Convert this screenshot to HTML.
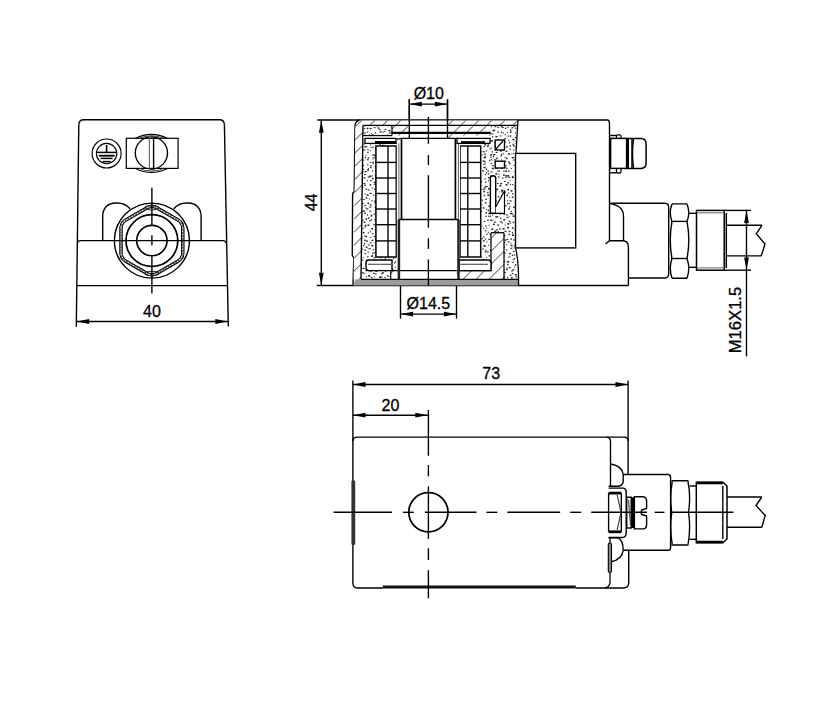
<!DOCTYPE html>
<html><head><meta charset="utf-8"><style>
html,body{margin:0;padding:0;background:#fff;}
svg{display:block;}
text{font-family:"Liberation Sans",sans-serif;fill:#000;stroke:#000;stroke-width:0.3px;}
</style></head><body>
<svg width="823" height="719" viewBox="0 0 823 719">
<rect width="823" height="719" fill="#fff"/>
<line x1="78.8" y1="124.5" x2="76.3" y2="326.7" stroke="#000" stroke-width="1.38" />
<path d="M78.8,124.5 Q79.3,119.7 83.8,119.7 L219.5,119.7 Q224,119.7 224.4,124.5" stroke="#000" stroke-width="1.38" fill="none" />
<line x1="224.4" y1="124.5" x2="228.3" y2="326.5" stroke="#000" stroke-width="1.38" />
<path d="M77.3,243 Q78,240.6 80.5,240.6 L223,240.6 Q225.5,240.6 226.4,243" stroke="#000" stroke-width="1.38" fill="none" />
<line x1="76.5" y1="285.6" x2="227.6" y2="285.6" stroke="#000" stroke-width="1.38" />
<line x1="76.5" y1="321.5" x2="227.8" y2="321.5" stroke="#000" stroke-width="1.38" />
<path d="M76.6,321.5 L89.1,319.1 L89.1,323.9 Z" fill="#000" stroke="none"/>
<path d="M227.8,321.5 L215.3,323.9 L215.3,319.1 Z" fill="#000" stroke="none"/>
<text x="152" y="311" font-size="16" text-anchor="middle" dominant-baseline="central">40</text>
<path d="M102.7,240.6 L102.7,216.5 C102.7,208 108,203 115.5,203 L117.5,203 C123,203 126.8,205 130,208.8" stroke="#000" stroke-width="1.38" fill="none" />
<path d="M201.1,240.6 L201.1,216.5 C201.1,208 195.8,203 188.3,203 L186.3,203 C180.8,203 177,205 173.8,208.8" stroke="#000" stroke-width="1.38" fill="none" />
<circle cx="151.9" cy="240.6" r="37.5" stroke="#000" stroke-width="1.38" fill="none" />
<defs><clipPath id="cca"><circle cx="151.9" cy="240.6" r="35.4"/></clipPath><clipPath id="hca"><polygon points="151.9,203.59 183.95,222.09 183.95,259.11 151.9,277.61 119.85,259.11 119.85,222.09"/></clipPath></defs>
<polygon points="151.9,203.6 183.94,222.1 183.94,259.1 151.9,277.6 119.86,259.1 119.86,222.1" stroke="#000" stroke-width="1.2" fill="none" clip-path="url(#cca)" />
<circle cx="151.9" cy="240.6" r="35.4" stroke="#000" stroke-width="1.2" fill="none" clip-path="url(#hca)" />
<defs><clipPath id="ccb"><circle cx="151.9" cy="240.6" r="34.2"/></clipPath><clipPath id="hcb"><polygon points="151.9,204.89 182.83,222.75 182.83,258.45 151.9,276.31 120.97,258.45 120.97,222.75"/></clipPath></defs>
<polygon points="151.9,204.9 182.82,222.75 182.82,258.45 151.9,276.3 120.98,258.45 120.98,222.75" stroke="#555" stroke-width="1.5" fill="none" clip-path="url(#ccb)" stroke-dasharray="1.8 1.2"/>
<circle cx="151.9" cy="240.6" r="34.2" stroke="#555" stroke-width="1.5" fill="none" clip-path="url(#hcb)" stroke-dasharray="1.8 1.2"/>
<defs><clipPath id="ccc"><circle cx="151.9" cy="240.6" r="33.0"/></clipPath><clipPath id="hcc"><polygon points="151.9,206.29 181.61,223.44 181.61,257.75 151.9,274.91 122.19,257.75 122.19,223.44"/></clipPath></defs>
<polygon points="151.9,206.3 181.6,223.45 181.6,257.75 151.9,274.9 122.2,257.75 122.2,223.45" stroke="#000" stroke-width="1.1" fill="none" clip-path="url(#ccc)" />
<circle cx="151.9" cy="240.6" r="33.0" stroke="#000" stroke-width="1.1" fill="none" clip-path="url(#hcc)" />
<ellipse cx="151.9" cy="207.8" rx="7" ry="2.2" stroke="#333" stroke-width="1.1" fill="none"/>
<ellipse cx="151.9" cy="273.4" rx="7" ry="2.2" stroke="#333" stroke-width="1.1" fill="none"/>
<circle cx="151.9" cy="240.6" r="25.9" stroke="#000" stroke-width="1.72" fill="none" />
<circle cx="151.9" cy="240.6" r="15.2" stroke="#000" stroke-width="1.61" fill="none" />
<line x1="151.9" y1="187.8" x2="151.9" y2="225.3" stroke="#000" stroke-width="1.38" />
<line x1="151.9" y1="235.3" x2="151.9" y2="245.2" stroke="#000" stroke-width="1.38" />
<line x1="151.9" y1="256.2" x2="151.9" y2="293.5" stroke="#000" stroke-width="1.38" />
<circle cx="106.6" cy="153.5" r="14.5" stroke="#000" stroke-width="1.15" fill="none" />
<circle cx="106.6" cy="153.5" r="10.2" stroke="#000" stroke-width="1.15" fill="none" />
<line x1="106.6" y1="145" x2="106.6" y2="152.4" stroke="#000" stroke-width="1.61" />
<line x1="96.6" y1="152.4" x2="116.6" y2="152.4" stroke="#000" stroke-width="1.49" />
<line x1="98.8" y1="155.7" x2="114.6" y2="155.7" stroke="#000" stroke-width="1.84" />
<line x1="100.6" y1="158.4" x2="112.6" y2="158.4" stroke="#000" stroke-width="1.49" />
<line x1="102.6" y1="161.6" x2="110.6" y2="161.6" stroke="#000" stroke-width="1.49" />
<rect x="126.3" y="138.3" width="51.8" height="30.1" stroke="#000" stroke-width="1.21" fill="none" />
<circle cx="151.4" cy="153" r="16.1" stroke="#000" stroke-width="1.38" fill="none" />
<path d="M135.4,138.3 Q151.5,130.4 167.4,138.3" stroke="#000" stroke-width="1.15" fill="none" />
<path d="M135.4,168.4 Q151.5,176.3 167.4,168.4" stroke="#000" stroke-width="1.15" fill="none" />
<path d="M139,138.3 Q151.5,133 164,138.3" stroke="#444" stroke-width="1.03" fill="none" />
<path d="M139,168.4 Q151.5,173.7 164,168.4" stroke="#444" stroke-width="1.03" fill="none" />
<line x1="149.4" y1="136.8" x2="149.4" y2="169.8" stroke="#666" stroke-width="1.15" />
<line x1="153.6" y1="136.8" x2="153.6" y2="169.8" stroke="#000" stroke-width="1.38" />
<line x1="317.3" y1="120" x2="360" y2="120" stroke="#000" stroke-width="1.38" />
<line x1="316.8" y1="285.5" x2="353" y2="285.5" stroke="#000" stroke-width="1.38" />
<line x1="321.3" y1="120" x2="321.3" y2="285.5" stroke="#000" stroke-width="1.38" />
<path d="M321.3,120.2 L323.7,132.7 L318.9,132.7 Z" fill="#000" stroke="none"/>
<path d="M321.3,285.3 L318.9,272.8 L323.7,272.8 Z" fill="#000" stroke="none"/>
<text x="311.7" y="202.4" font-size="16" text-anchor="middle" dominant-baseline="central" transform="rotate(-90 311.7 202.4)">44</text>
<line x1="409.3" y1="99.3" x2="409.3" y2="138.5" stroke="#000" stroke-width="1.38" />
<line x1="447.5" y1="99.3" x2="447.5" y2="138.5" stroke="#000" stroke-width="1.38" />
<line x1="409.3" y1="104.1" x2="447.5" y2="104.1" stroke="#000" stroke-width="1.38" />
<path d="M409.4,104.1 L421.9,101.7 L421.9,106.5 Z" fill="#000" stroke="none"/>
<path d="M447.4,104.1 L434.9,106.5 L434.9,101.7 Z" fill="#000" stroke="none"/>
<text x="428.8" y="93.3" font-size="16" text-anchor="middle" dominant-baseline="central">Ø10</text>
<line x1="400.5" y1="279" x2="400.5" y2="318.6" stroke="#000" stroke-width="1.38" />
<line x1="456.5" y1="279" x2="456.5" y2="318.6" stroke="#000" stroke-width="1.38" />
<line x1="400.5" y1="314.1" x2="456.5" y2="314.1" stroke="#000" stroke-width="1.38" />
<path d="M400.6,314.1 L413.1,311.7 L413.1,316.5 Z" fill="#000" stroke="none"/>
<path d="M456.4,314.1 L443.9,316.5 L443.9,311.7 Z" fill="#000" stroke="none"/>
<text x="428.4" y="303.6" font-size="16" text-anchor="middle" dominant-baseline="central">Ø14.5</text>
<path d="M360,120 L607.7,120 Q609.5,120.5 609.5,124 L609.5,240.8" stroke="#000" stroke-width="1.38" fill="none" />
<path d="M360,120 Q355.2,121 355,126 L354.2,191.5 L352.6,193.5 L352.3,255.5 L353.8,257.5 L353,285.5" stroke="#000" stroke-width="1.38" fill="none" />
<line x1="353" y1="285.5" x2="628.4" y2="285.5" stroke="#000" stroke-width="1.38" />
<path d="M609.5,203.2 L665,203.2" stroke="#000" stroke-width="1.38" fill="none" />
<path d="M609.5,203.6 Q623.5,205.5 623.5,216 L623.5,240.8 L609.5,240.8 L605.5,244" stroke="#000" stroke-width="1.38" fill="none" />
<path d="M623.5,240.8 Q628.4,241.5 628.4,247 L628.4,285.5" stroke="#000" stroke-width="1.38" fill="none" />
<line x1="628.4" y1="278" x2="665" y2="278" stroke="#000" stroke-width="1.38" />
<path d="M665,203.2 Q668.7,203.4 668.7,207.5 L668.7,273.7 Q668.7,277.8 665,278" stroke="#000" stroke-width="1.38" fill="none" />
<path d="M672,203.9 L687,203.9 M672,278.2 L687,278.2" stroke="#000" stroke-width="1.38" fill="none" />
<path d="M672,203.9 Q668.6,212.65 672,221.4" stroke="#000" stroke-width="1.38" fill="none" />
<path d="M687,203.9 Q690.6,212.65 687,221.4" stroke="#000" stroke-width="1.38" fill="none" />
<path d="M672,221.4 Q668.6,239.95 672,258.5" stroke="#000" stroke-width="1.38" fill="none" />
<path d="M687,221.4 Q690.6,239.95 687,258.5" stroke="#000" stroke-width="1.38" fill="none" />
<path d="M672,258.5 Q668.6,268.35 672,278.2" stroke="#000" stroke-width="1.38" fill="none" />
<path d="M687,258.5 Q690.6,268.35 687,278.2" stroke="#000" stroke-width="1.38" fill="none" />
<line x1="671" y1="221.4" x2="688" y2="221.4" stroke="#000" stroke-width="1.38" />
<line x1="671" y1="258.5" x2="688" y2="258.5" stroke="#000" stroke-width="1.38" />
<line x1="689.2" y1="213.3" x2="696.5" y2="213.3" stroke="#000" stroke-width="1.38" />
<line x1="689.2" y1="267.3" x2="696.5" y2="267.3" stroke="#000" stroke-width="1.38" />
<rect x="696.5" y="210.4" width="27.7" height="59.8" stroke="#000" stroke-width="1.49" fill="none" />
<line x1="697" y1="212.8" x2="724" y2="212.8" stroke="#777" stroke-width="1.15" />
<line x1="697" y1="267.9" x2="724" y2="267.9" stroke="#777" stroke-width="1.15" />
<line x1="726.3" y1="213" x2="726.3" y2="268" stroke="#000" stroke-width="1.49" />
<line x1="724.2" y1="210.4" x2="751" y2="210.4" stroke="#000" stroke-width="1.38" />
<line x1="724.2" y1="270.2" x2="751" y2="270.2" stroke="#000" stroke-width="1.38" />
<line x1="746.5" y1="210.4" x2="746.5" y2="356.4" stroke="#000" stroke-width="1.38" />
<path d="M746.5,210.6 L748.9,223.1 L744.1,223.1 Z" fill="#000" stroke="none"/>
<path d="M746.5,270 L744.1,257.5 L748.9,257.5 Z" fill="#000" stroke="none"/>
<line x1="726.3" y1="225.3" x2="762" y2="225.3" stroke="#000" stroke-width="1.38" />
<line x1="726.3" y1="255.9" x2="761.3" y2="255.9" stroke="#000" stroke-width="1.38" />
<path d="M762,225.3 L756.3,233.7 L765,244 L761.3,255.9" stroke="#000" stroke-width="1.38" fill="none" />
<text x="735.3" y="320" font-size="16.6" text-anchor="middle" dominant-baseline="central" transform="rotate(-90 735.3 320)">M16X1.5</text>
<path d="M609.5,135.5 L617,135.5" stroke="#000" stroke-width="1.38" fill="none" />
<path d="M609.5,172.8 L617,172.8" stroke="#000" stroke-width="1.38" fill="none" />
<path d="M616.5,138.4 L616.5,136 Q616.5,134.8 618,134.8 L619.8,134.8 Q621,134.8 621,136 L621,138.4" stroke="#000" stroke-width="1.26" fill="none" />
<path d="M616.5,168.4 L616.5,171.5 Q616.5,173 618,173 L619.8,173 Q621,173 621,171.5 L621,168.4" stroke="#000" stroke-width="1.26" fill="none" />
<rect x="610.6" y="138.4" width="16" height="30" stroke="#000" stroke-width="1.49" fill="none" />
<line x1="628" y1="138.4" x2="628" y2="168.4" stroke="#000" stroke-width="2.07" />
<line x1="632" y1="138.4" x2="632" y2="168.4" stroke="#000" stroke-width="1.49" />
<path d="M626.6,138.4 L641,138.4 Q646.1,138.4 646.1,144 L646.1,163 Q646.1,168.4 641,168.4 L626.6,168.4" stroke="#000" stroke-width="1.49" fill="none" />
<path d="M633.5,139 Q631.5,153 633.5,168" stroke="#000" stroke-width="1.38" fill="none" />
<defs>
<pattern id="hatch" patternUnits="userSpaceOnUse" width="9.2" height="9.2" patternTransform="rotate(45)">
<line x1="0" y1="0" x2="0" y2="9.2" stroke="#000" stroke-width="1.1"/>
</pattern>
<clipPath id="stipL"><polygon points="363,125.4 392,125.4 392,138.4 400,138.4 400,279.3 361,279.3"/></clipPath>
<clipPath id="stipR"><polygon points="481,138.4 490.7,138.4 490.7,125.4 518,125.4 516,153.4 515.5,247.9 518.5,265 518,279.3 481,279.3"/></clipPath>
</defs>
<g clip-path="url(#stipL)" fill="#222"><rect x="361.03" y="125.48" width="1.0" height="1.5"/><rect x="364.39" y="125.26" width="1.3" height="1.0"/><rect x="367.9" y="124.74" width="1.3" height="1.0"/><rect x="372.91" y="123.6" width="1.0" height="1.0"/><rect x="376.7" y="125.26" width="1.0" height="1.5"/><rect x="380.09" y="123.57" width="1.3" height="1.0"/><rect x="383.54" y="123.83" width="2.0" height="1.0"/><rect x="387.02" y="125.23" width="1.3" height="1.0"/><rect x="390.69" y="125.44" width="1.6" height="1.0"/><rect x="394.12" y="123.61" width="1.0" height="1.5"/><rect x="396.56" y="125.57" width="2.0" height="1.2"/><rect x="363.99" y="128.1" width="1.3" height="1.0"/><rect x="366.81" y="127.72" width="1.6" height="1.5"/><rect x="369.7" y="128.04" width="2.0" height="1.2"/><rect x="373.6" y="127.18" width="2.0" height="1.0"/><rect x="377.61" y="127.43" width="2.0" height="1.2"/><rect x="378.86" y="129.07" width="1.6" height="1.2"/><rect x="384.48" y="128.84" width="2.0" height="1.0"/><rect x="388.48" y="129.95" width="2.0" height="1.5"/><rect x="391.45" y="127.14" width="1.6" height="1.5"/><rect x="394.71" y="129.11" width="2.0" height="1.2"/><rect x="398.69" y="129.77" width="1.6" height="1.0"/><rect x="363.87" y="132.42" width="2.0" height="1.0"/><rect x="366.96" y="131.39" width="1.3" height="1.2"/><rect x="371.05" y="133.25" width="1.0" height="1.0"/><rect x="374.77" y="132.23" width="1.3" height="1.2"/><rect x="379.63" y="131.37" width="2.0" height="1.2"/><rect x="382.58" y="131.69" width="1.3" height="1.0"/><rect x="384.21" y="130.96" width="1.3" height="1.0"/><rect x="389.03" y="132.35" width="1.6" height="1.2"/><rect x="391.03" y="131.81" width="1.6" height="1.5"/><rect x="396.36" y="133.51" width="1.0" height="1.2"/><rect x="400.95" y="132.96" width="2.0" height="1.2"/><rect x="361.15" y="136.03" width="1.0" height="1.0"/><rect x="364.57" y="134.68" width="1.3" height="1.0"/><rect x="368.97" y="134.18" width="1.0" height="1.5"/><rect x="371.91" y="134.34" width="1.6" height="1.5"/><rect x="375.04" y="136.8" width="2.0" height="1.0"/><rect x="380.52" y="137.06" width="1.6" height="1.2"/><rect x="382.42" y="136.72" width="2.0" height="1.2"/><rect x="387.11" y="134.29" width="1.0" height="1.5"/><rect x="390.19" y="134.86" width="1.3" height="1.5"/><rect x="392.71" y="137.04" width="1.6" height="1.0"/><rect x="398.37" y="136.92" width="1.6" height="1.5"/><rect x="364.68" y="138.38" width="1.6" height="1.0"/><rect x="367.13" y="138.26" width="1.6" height="1.5"/><rect x="370.24" y="140.13" width="1.3" height="1.0"/><rect x="375.67" y="139.91" width="1.3" height="1.0"/><rect x="378.25" y="138.68" width="1.0" height="1.0"/><rect x="382.65" y="139.05" width="1.3" height="1.5"/><rect x="385.6" y="138.65" width="1.6" height="1.2"/><rect x="387.47" y="137.88" width="2.0" height="1.0"/><rect x="391.82" y="139.09" width="1.0" height="1.2"/><rect x="397.17" y="138.65" width="1.0" height="1.5"/><rect x="398.2" y="138.79" width="1.3" height="1.2"/><rect x="363.93" y="143.11" width="1.0" height="1.5"/><rect x="367.35" y="142.36" width="1.0" height="1.5"/><rect x="370.13" y="144.25" width="1.0" height="1.0"/><rect x="375.04" y="142.57" width="1.3" height="1.5"/><rect x="379.32" y="144.21" width="1.6" height="1.0"/><rect x="381.98" y="141.5" width="1.0" height="1.5"/><rect x="385.83" y="142.76" width="1.3" height="1.2"/><rect x="390.44" y="141.71" width="1.3" height="1.0"/><rect x="391.64" y="142.02" width="1.3" height="1.5"/><rect x="395.41" y="142.82" width="1.3" height="1.0"/><rect x="400.8" y="142.21" width="2.0" height="1.5"/><rect x="364.35" y="145.96" width="1.3" height="1.5"/><rect x="365.49" y="146.25" width="2.0" height="1.0"/><rect x="370.48" y="147.09" width="1.3" height="1.0"/><rect x="372.53" y="146.59" width="1.0" height="1.5"/><rect x="375.81" y="146.79" width="2.0" height="1.0"/><rect x="381.96" y="144.8" width="1.3" height="1.2"/><rect x="382.82" y="144.93" width="2.0" height="1.5"/><rect x="386.31" y="147.47" width="1.0" height="1.2"/><rect x="390.79" y="147.72" width="1.3" height="1.5"/><rect x="394.17" y="146.24" width="2.0" height="1.5"/><rect x="399.82" y="146.85" width="1.6" height="1.5"/><rect x="363.21" y="149.58" width="2.0" height="1.0"/><rect x="367.35" y="149.16" width="1.3" height="1.2"/><rect x="369.87" y="150.29" width="1.0" height="1.0"/><rect x="376.16" y="150.21" width="1.6" height="1.0"/><rect x="377.51" y="148.59" width="2.0" height="1.0"/><rect x="382.62" y="148.46" width="2.0" height="1.0"/><rect x="386.93" y="150.81" width="1.3" height="1.5"/><rect x="388.69" y="149.8" width="1.6" height="1.2"/><rect x="391.47" y="149.17" width="1.6" height="1.0"/><rect x="395.46" y="149.62" width="1.0" height="1.2"/><rect x="398.98" y="150.14" width="1.0" height="1.0"/><rect x="365.4" y="154.79" width="1.0" height="1.0"/><rect x="367.27" y="151.82" width="1.3" height="1.2"/><rect x="372.37" y="154.3" width="1.6" height="1.2"/><rect x="373.97" y="154.62" width="2.0" height="1.5"/><rect x="378.07" y="152.58" width="1.3" height="1.2"/><rect x="383.42" y="152.55" width="1.0" height="1.5"/><rect x="384.39" y="152.52" width="1.3" height="1.0"/><rect x="388.48" y="152.08" width="1.0" height="1.2"/><rect x="394.34" y="153.02" width="1.6" height="1.5"/><rect x="395.12" y="153.37" width="1.3" height="1.0"/><rect x="401.33" y="152.53" width="1.3" height="1.0"/><rect x="364.71" y="156.92" width="1.3" height="1.2"/><rect x="367.66" y="157.37" width="1.6" height="1.2"/><rect x="372.33" y="158.39" width="1.0" height="1.0"/><rect x="373.37" y="156.84" width="1.3" height="1.5"/><rect x="378.36" y="158.2" width="1.0" height="1.5"/><rect x="382.99" y="156.6" width="2.0" height="1.5"/><rect x="386.57" y="156.48" width="1.6" height="1.5"/><rect x="388.14" y="155.96" width="1.3" height="1.5"/><rect x="393.31" y="155.67" width="1.6" height="1.0"/><rect x="397.19" y="155.27" width="1.6" height="1.2"/><rect x="398.58" y="155.5" width="2.0" height="1.5"/><rect x="362.68" y="159.54" width="1.6" height="1.0"/><rect x="366.78" y="159.27" width="2.0" height="1.0"/><rect x="369.69" y="161.82" width="1.6" height="1.0"/><rect x="372.5" y="161.57" width="1.3" height="1.2"/><rect x="376.5" y="159.83" width="1.0" height="1.2"/><rect x="380.34" y="160.85" width="1.3" height="1.5"/><rect x="385.46" y="159.05" width="1.0" height="1.0"/><rect x="387.8" y="158.9" width="1.0" height="1.2"/><rect x="391.03" y="159.51" width="1.3" height="1.5"/><rect x="396.44" y="161.26" width="2.0" height="1.2"/><rect x="399.43" y="160.34" width="1.6" height="1.5"/><rect x="362.06" y="164.92" width="2.0" height="1.5"/><rect x="367.36" y="163.91" width="1.0" height="1.5"/><rect x="370.53" y="165.14" width="1.3" height="1.0"/><rect x="372.3" y="162.72" width="1.6" height="1.0"/><rect x="376.94" y="163.74" width="1.0" height="1.5"/><rect x="379.33" y="163.99" width="1.3" height="1.2"/><rect x="383.65" y="163.75" width="1.0" height="1.5"/><rect x="389.31" y="165.16" width="1.0" height="1.5"/><rect x="391.55" y="164.67" width="2.0" height="1.2"/><rect x="395.99" y="164.99" width="1.3" height="1.5"/><rect x="399.36" y="163.03" width="2.0" height="1.2"/><rect x="362.64" y="168.73" width="1.6" height="1.0"/><rect x="367.9" y="167.88" width="1.0" height="1.5"/><rect x="369.94" y="166.64" width="1.6" height="1.5"/><rect x="374.81" y="165.88" width="1.0" height="1.2"/><rect x="377.4" y="167.97" width="1.3" height="1.5"/><rect x="381.63" y="168.09" width="1.6" height="1.2"/><rect x="385.09" y="168.28" width="1.3" height="1.2"/><rect x="390.26" y="168.81" width="1.0" height="1.2"/><rect x="392.14" y="168.44" width="2.0" height="1.2"/><rect x="395.45" y="168.75" width="1.3" height="1.0"/><rect x="399.6" y="166.29" width="1.6" height="1.2"/><rect x="362.49" y="170.99" width="1.0" height="1.5"/><rect x="364.58" y="170.96" width="2.0" height="1.2"/><rect x="367.03" y="169.38" width="2.0" height="1.5"/><rect x="371.92" y="170.33" width="1.3" height="1.2"/><rect x="375.11" y="170.38" width="1.6" height="1.0"/><rect x="378.59" y="170.45" width="2.0" height="1.0"/><rect x="384.08" y="169.99" width="1.0" height="1.5"/><rect x="385.55" y="170.56" width="2.0" height="1.2"/><rect x="391.34" y="171.25" width="1.6" height="1.2"/><rect x="394.1" y="172.09" width="1.6" height="1.0"/><rect x="395.4" y="171.48" width="1.3" height="1.0"/><rect x="364.23" y="173.91" width="1.6" height="1.2"/><rect x="369.19" y="175.49" width="2.0" height="1.5"/><rect x="371.66" y="175.2" width="1.0" height="1.5"/><rect x="374.76" y="174.86" width="1.3" height="1.5"/><rect x="379.75" y="174.45" width="1.3" height="1.0"/><rect x="382.02" y="174" width="1.6" height="1.2"/><rect x="386.41" y="176.01" width="1.6" height="1.2"/><rect x="389.68" y="173.86" width="2.0" height="1.0"/><rect x="391.66" y="173.42" width="1.3" height="1.5"/><rect x="397.54" y="174.49" width="1.3" height="1.2"/><rect x="401.08" y="176.08" width="2.0" height="1.2"/><rect x="360.51" y="176.73" width="1.6" height="1.5"/><rect x="363.73" y="177.2" width="1.6" height="1.5"/><rect x="367.62" y="176.51" width="2.0" height="1.2"/><rect x="371.83" y="178.11" width="2.0" height="1.2"/><rect x="375.12" y="176.64" width="1.6" height="1.5"/><rect x="380.66" y="176.84" width="1.3" height="1.0"/><rect x="381.98" y="177.23" width="2.0" height="1.5"/><rect x="386.07" y="179.48" width="1.0" height="1.0"/><rect x="388.29" y="178.7" width="2.0" height="1.5"/><rect x="393.28" y="176.67" width="2.0" height="1.2"/><rect x="396.05" y="176.79" width="1.3" height="1.0"/><rect x="363.43" y="182.97" width="2.0" height="1.0"/><rect x="366.55" y="180.1" width="1.3" height="1.0"/><rect x="370.14" y="180.1" width="1.6" height="1.0"/><rect x="373.86" y="181.66" width="2.0" height="1.5"/><rect x="377.83" y="180.29" width="1.6" height="1.5"/><rect x="381.94" y="180.59" width="1.6" height="1.0"/><rect x="384.98" y="179.98" width="1.6" height="1.2"/><rect x="386.89" y="180.98" width="1.3" height="1.2"/><rect x="391.21" y="181.72" width="1.0" height="1.2"/><rect x="395.32" y="180.96" width="1.0" height="1.0"/><rect x="398.2" y="182.12" width="2.0" height="1.0"/><rect x="362.44" y="186.46" width="1.3" height="1.2"/><rect x="363.96" y="184.59" width="2.0" height="1.2"/><rect x="369.56" y="184.14" width="1.6" height="1.5"/><rect x="373.61" y="183.73" width="2.0" height="1.0"/><rect x="375.45" y="186.12" width="1.3" height="1.2"/><rect x="378.7" y="185.93" width="1.6" height="1.0"/><rect x="384.56" y="185.09" width="1.3" height="1.0"/><rect x="386.61" y="186.41" width="1.0" height="1.5"/><rect x="389.07" y="184.77" width="1.3" height="1.0"/><rect x="395.24" y="183.96" width="1.0" height="1.5"/><rect x="395.87" y="184.76" width="1.6" height="1.5"/><rect x="360.06" y="187.58" width="1.3" height="1.0"/><rect x="365.42" y="188.72" width="2.0" height="1.0"/><rect x="367.87" y="189.36" width="1.6" height="1.2"/><rect x="371.82" y="187.4" width="1.0" height="1.2"/><rect x="374.21" y="188.39" width="1.0" height="1.5"/><rect x="380.56" y="187.71" width="1.6" height="1.2"/><rect x="383.64" y="188.42" width="1.0" height="1.5"/><rect x="386.06" y="188.23" width="2.0" height="1.0"/><rect x="389.12" y="189.39" width="2.0" height="1.0"/><rect x="393.64" y="187.84" width="2.0" height="1.0"/><rect x="396.36" y="188.53" width="1.0" height="1.2"/><rect x="360.3" y="192.51" width="1.6" height="1.2"/><rect x="364.7" y="193.62" width="1.0" height="1.2"/><rect x="369.54" y="192.78" width="1.6" height="1.2"/><rect x="370.72" y="192.99" width="1.0" height="1.0"/><rect x="376.87" y="190.93" width="2.0" height="1.2"/><rect x="380.29" y="193.49" width="2.0" height="1.0"/><rect x="384.26" y="191.17" width="1.6" height="1.5"/><rect x="387.31" y="192.52" width="1.6" height="1.2"/><rect x="389.85" y="193.08" width="1.0" height="1.5"/><rect x="392.55" y="192.98" width="1.3" height="1.2"/><rect x="395.66" y="190.69" width="1.6" height="1.0"/><rect x="365.69" y="197.26" width="1.6" height="1.5"/><rect x="366.68" y="194.43" width="2.0" height="1.5"/><rect x="373.04" y="194.67" width="1.3" height="1.2"/><rect x="374.95" y="196.96" width="1.3" height="1.5"/><rect x="378.73" y="196.58" width="1.0" height="1.2"/><rect x="381.49" y="195.92" width="1.6" height="1.2"/><rect x="386.44" y="194.75" width="1.3" height="1.0"/><rect x="388.4" y="194.61" width="1.3" height="1.2"/><rect x="391.37" y="194.92" width="1.3" height="1.5"/><rect x="396.37" y="196.19" width="1.0" height="1.5"/><rect x="399.71" y="194.24" width="1.0" height="1.2"/><rect x="363.27" y="199.08" width="1.6" height="1.0"/><rect x="368.86" y="198.4" width="1.0" height="1.0"/><rect x="371.51" y="200.29" width="1.3" height="1.0"/><rect x="374.32" y="200.41" width="2.0" height="1.5"/><rect x="377.5" y="200.13" width="1.0" height="1.0"/><rect x="382.24" y="199.91" width="1.6" height="1.0"/><rect x="383.86" y="198.74" width="1.0" height="1.0"/><rect x="390.46" y="197.78" width="1.3" height="1.0"/><rect x="393.42" y="198.96" width="1.6" height="1.0"/><rect x="396.33" y="197.9" width="1.0" height="1.2"/><rect x="399.63" y="197.86" width="1.0" height="1.2"/><rect x="362.25" y="202.89" width="1.3" height="1.2"/><rect x="367.5" y="202.49" width="1.6" height="1.5"/><rect x="369.81" y="204.22" width="1.6" height="1.5"/><rect x="374.17" y="202.33" width="2.0" height="1.0"/><rect x="378.65" y="204.36" width="1.6" height="1.5"/><rect x="380.06" y="203.51" width="1.3" height="1.0"/><rect x="384.35" y="201.69" width="1.0" height="1.0"/><rect x="387.8" y="204" width="2.0" height="1.0"/><rect x="390.45" y="201.36" width="1.3" height="1.5"/><rect x="396.14" y="202.45" width="1.6" height="1.5"/><rect x="398.72" y="201.65" width="1.6" height="1.0"/><rect x="364.2" y="205.07" width="2.0" height="1.0"/><rect x="365.75" y="207.39" width="1.0" height="1.2"/><rect x="369.32" y="206.66" width="2.0" height="1.0"/><rect x="374.74" y="206.7" width="1.3" height="1.5"/><rect x="377.89" y="205.43" width="2.0" height="1.5"/><rect x="381.62" y="207.36" width="1.3" height="1.5"/><rect x="383.16" y="206" width="1.3" height="1.2"/><rect x="387.14" y="205.2" width="1.3" height="1.0"/><rect x="392.35" y="207.41" width="1.0" height="1.5"/><rect x="395.74" y="205.1" width="2.0" height="1.5"/><rect x="399.31" y="207.2" width="2.0" height="1.2"/><rect x="362.82" y="210.36" width="2.0" height="1.5"/><rect x="366.4" y="208.34" width="2.0" height="1.2"/><rect x="369.29" y="210.69" width="2.0" height="1.0"/><rect x="374.65" y="209.54" width="1.0" height="1.0"/><rect x="376.75" y="209.42" width="2.0" height="1.5"/><rect x="380.77" y="208.39" width="1.3" height="1.0"/><rect x="385.62" y="209.26" width="1.0" height="1.0"/><rect x="388.61" y="211.11" width="1.3" height="1.0"/><rect x="392.48" y="211.43" width="1.0" height="1.0"/><rect x="393.71" y="211.08" width="1.6" height="1.0"/><rect x="399.01" y="210.56" width="1.3" height="1.0"/><rect x="364.3" y="212.6" width="1.6" height="1.5"/><rect x="366.76" y="214.39" width="1.3" height="1.2"/><rect x="371.02" y="214.72" width="1.3" height="1.5"/><rect x="373.8" y="213.41" width="1.6" height="1.2"/><rect x="376.61" y="212.38" width="1.3" height="1.5"/><rect x="383.01" y="213.96" width="2.0" height="1.0"/><rect x="386.09" y="212.64" width="1.0" height="1.5"/><rect x="389.83" y="214.87" width="2.0" height="1.5"/><rect x="392.3" y="213.99" width="1.0" height="1.2"/><rect x="397.33" y="213.8" width="2.0" height="1.5"/><rect x="400.25" y="212.64" width="1.6" height="1.5"/><rect x="360.98" y="215.59" width="1.3" height="1.0"/><rect x="365.42" y="218.38" width="1.6" height="1.5"/><rect x="367.8" y="217.37" width="1.6" height="1.5"/><rect x="370.54" y="215.44" width="1.3" height="1.2"/><rect x="376.03" y="216.71" width="1.6" height="1.0"/><rect x="378.02" y="216.06" width="1.0" height="1.0"/><rect x="381.31" y="217.14" width="1.6" height="1.0"/><rect x="386.34" y="217.03" width="2.0" height="1.5"/><rect x="389.17" y="215.76" width="1.6" height="1.5"/><rect x="394.38" y="215.84" width="1.0" height="1.0"/><rect x="397.53" y="216.77" width="1.0" height="1.5"/><rect x="362.04" y="219.73" width="1.6" height="1.0"/><rect x="363.63" y="221.48" width="1.6" height="1.5"/><rect x="369.05" y="220.28" width="2.0" height="1.0"/><rect x="371.05" y="218.87" width="1.0" height="1.5"/><rect x="374.14" y="219.46" width="1.3" height="1.0"/><rect x="380.5" y="219.2" width="1.3" height="1.0"/><rect x="382.45" y="220.52" width="2.0" height="1.5"/><rect x="385.23" y="219.85" width="1.6" height="1.5"/><rect x="388.36" y="221.7" width="2.0" height="1.5"/><rect x="393.45" y="220.06" width="2.0" height="1.5"/><rect x="398.18" y="219.12" width="2.0" height="1.0"/><rect x="360.54" y="223.14" width="1.0" height="1.0"/><rect x="364.81" y="224.79" width="1.6" height="1.5"/><rect x="367.45" y="224.43" width="2.0" height="1.5"/><rect x="373.32" y="224.07" width="1.6" height="1.2"/><rect x="376.39" y="225.48" width="1.3" height="1.0"/><rect x="380.69" y="222.45" width="1.6" height="1.0"/><rect x="384.1" y="223.05" width="1.3" height="1.5"/><rect x="387.87" y="223.01" width="2.0" height="1.2"/><rect x="390.41" y="223.61" width="2.0" height="1.2"/><rect x="394.7" y="224.62" width="1.0" height="1.2"/><rect x="398.6" y="223.15" width="1.6" height="1.0"/><rect x="362.66" y="227.74" width="1.3" height="1.0"/><rect x="364.43" y="226.3" width="1.3" height="1.2"/><rect x="370.97" y="228.17" width="1.0" height="1.0"/><rect x="371.84" y="227.99" width="1.0" height="1.5"/><rect x="375.15" y="226.09" width="1.6" height="1.0"/><rect x="381.07" y="228.55" width="1.0" height="1.5"/><rect x="385.01" y="226.28" width="1.3" height="1.0"/><rect x="385.9" y="226.05" width="1.0" height="1.5"/><rect x="391.09" y="227.46" width="1.3" height="1.0"/><rect x="395.13" y="228" width="1.6" height="1.2"/><rect x="397.22" y="226.77" width="1.6" height="1.2"/><rect x="362.85" y="231.89" width="1.6" height="1.5"/><rect x="367.84" y="232.18" width="1.0" height="1.2"/><rect x="369.87" y="231.13" width="1.0" height="1.2"/><rect x="374.8" y="229.63" width="1.3" height="1.5"/><rect x="379.58" y="229.76" width="1.6" height="1.0"/><rect x="381.76" y="231.14" width="1.6" height="1.0"/><rect x="383.92" y="231.04" width="2.0" height="1.5"/><rect x="389.98" y="230.06" width="2.0" height="1.5"/><rect x="392.09" y="232.12" width="1.6" height="1.5"/><rect x="397.52" y="230.38" width="1.3" height="1.5"/><rect x="398.79" y="230" width="1.0" height="1.2"/><rect x="364.41" y="235.51" width="1.6" height="1.2"/><rect x="366.03" y="235.97" width="1.0" height="1.2"/><rect x="372.09" y="233.09" width="1.3" height="1.2"/><rect x="373.64" y="235.88" width="1.3" height="1.2"/><rect x="379.46" y="235.02" width="2.0" height="1.0"/><rect x="381.56" y="235.41" width="1.0" height="1.2"/><rect x="385.26" y="234.67" width="2.0" height="1.5"/><rect x="388.71" y="234.04" width="2.0" height="1.2"/><rect x="392.67" y="233.83" width="1.3" height="1.0"/><rect x="395.08" y="235.06" width="1.3" height="1.5"/><rect x="398.16" y="233.97" width="1.3" height="1.5"/><rect x="360.75" y="237.59" width="1.6" height="1.0"/><rect x="364.25" y="239.59" width="1.6" height="1.5"/><rect x="370.2" y="237.07" width="1.0" height="1.0"/><rect x="371.79" y="239.68" width="1.6" height="1.5"/><rect x="375.05" y="237.42" width="1.0" height="1.5"/><rect x="380.54" y="237.44" width="2.0" height="1.2"/><rect x="381.28" y="237.82" width="2.0" height="1.5"/><rect x="385.42" y="239.67" width="1.6" height="1.2"/><rect x="388.32" y="237.36" width="2.0" height="1.0"/><rect x="394.14" y="239.44" width="2.0" height="1.5"/><rect x="397.14" y="238.93" width="2.0" height="1.0"/><rect x="363.85" y="242.87" width="1.3" height="1.5"/><rect x="365.88" y="240.48" width="2.0" height="1.2"/><rect x="369.67" y="242.31" width="2.0" height="1.0"/><rect x="374.87" y="242.35" width="1.3" height="1.2"/><rect x="378.62" y="241.62" width="1.0" height="1.5"/><rect x="382.18" y="241.73" width="1.3" height="1.5"/><rect x="384.03" y="240.12" width="2.0" height="1.0"/><rect x="386.64" y="241.81" width="1.3" height="1.5"/><rect x="392.54" y="243.07" width="1.6" height="1.0"/><rect x="396.29" y="241.54" width="1.3" height="1.5"/><rect x="398.64" y="240.13" width="1.6" height="1.5"/><rect x="362.98" y="245.07" width="1.3" height="1.2"/><rect x="365.79" y="246.58" width="1.6" height="1.5"/><rect x="367.87" y="244.49" width="2.0" height="1.0"/><rect x="371.27" y="244.95" width="2.0" height="1.5"/><rect x="376.99" y="244.74" width="1.6" height="1.0"/><rect x="379.01" y="245.98" width="1.3" height="1.2"/><rect x="383.3" y="244.14" width="1.0" height="1.5"/><rect x="385.98" y="245.66" width="1.3" height="1.0"/><rect x="390.03" y="245.65" width="2.0" height="1.2"/><rect x="395.61" y="246.04" width="1.3" height="1.2"/><rect x="397.11" y="246.32" width="1.6" height="1.5"/><rect x="361.55" y="248.51" width="1.3" height="1.2"/><rect x="364.28" y="249.45" width="1.6" height="1.2"/><rect x="368.59" y="248.11" width="2.0" height="1.2"/><rect x="372.71" y="249.18" width="1.6" height="1.0"/><rect x="377.84" y="249.87" width="1.0" height="1.0"/><rect x="381.05" y="250.03" width="1.3" height="1.5"/><rect x="384.6" y="249.17" width="1.0" height="1.5"/><rect x="385.52" y="250.18" width="1.6" height="1.2"/><rect x="390.96" y="248.99" width="1.3" height="1.0"/><rect x="395.03" y="248.26" width="1.3" height="1.0"/><rect x="398.97" y="249.67" width="1.3" height="1.5"/><rect x="364.5" y="253.17" width="1.6" height="1.0"/><rect x="367.67" y="251.37" width="1.0" height="1.5"/><rect x="372.3" y="252.82" width="1.0" height="1.5"/><rect x="373.54" y="252.02" width="1.3" height="1.2"/><rect x="378.27" y="250.87" width="2.0" height="1.0"/><rect x="382.47" y="251.47" width="1.3" height="1.5"/><rect x="385.68" y="253.03" width="1.3" height="1.2"/><rect x="388.8" y="252.48" width="1.6" height="1.2"/><rect x="392.04" y="252.02" width="1.0" height="1.0"/><rect x="396.41" y="252.71" width="1.0" height="1.0"/><rect x="399.85" y="252.86" width="1.6" height="1.0"/><rect x="362.76" y="257.08" width="1.0" height="1.0"/><rect x="367.04" y="256.21" width="1.6" height="1.0"/><rect x="371.03" y="255.39" width="2.0" height="1.5"/><rect x="373.58" y="257.13" width="1.6" height="1.2"/><rect x="376.44" y="255.02" width="1.0" height="1.2"/><rect x="379.82" y="256.86" width="2.0" height="1.2"/><rect x="384.03" y="255.09" width="1.6" height="1.0"/><rect x="388.05" y="256.74" width="1.6" height="1.0"/><rect x="390.51" y="255.18" width="1.0" height="1.0"/><rect x="394.3" y="255.99" width="2.0" height="1.5"/><rect x="398.4" y="255.49" width="1.0" height="1.0"/><rect x="362.19" y="259.27" width="1.0" height="1.5"/><rect x="366" y="259.71" width="1.3" height="1.5"/><rect x="368.79" y="259.95" width="1.0" height="1.0"/><rect x="370.31" y="259.78" width="1.3" height="1.0"/><rect x="375.83" y="260.53" width="2.0" height="1.0"/><rect x="380.16" y="259.85" width="1.6" height="1.0"/><rect x="383.29" y="259.55" width="1.6" height="1.2"/><rect x="384.91" y="257.87" width="1.0" height="1.2"/><rect x="389.66" y="259.6" width="1.0" height="1.2"/><rect x="393.2" y="257.88" width="1.0" height="1.2"/><rect x="396.76" y="260.68" width="2.0" height="1.0"/><rect x="360.69" y="263.18" width="1.3" height="1.2"/><rect x="365.44" y="263.04" width="1.0" height="1.5"/><rect x="368.03" y="264.15" width="1.0" height="1.2"/><rect x="370.08" y="263.47" width="1.0" height="1.0"/><rect x="374.3" y="261.68" width="2.0" height="1.0"/><rect x="378.01" y="263.11" width="2.0" height="1.5"/><rect x="383.04" y="264.23" width="1.6" height="1.5"/><rect x="386.48" y="264.02" width="1.0" height="1.2"/><rect x="389.74" y="263.55" width="2.0" height="1.5"/><rect x="394.25" y="262.1" width="1.0" height="1.5"/><rect x="394.92" y="261.49" width="1.0" height="1.2"/><rect x="399.34" y="263.62" width="1.3" height="1.2"/><rect x="362.57" y="267.85" width="2.0" height="1.2"/><rect x="367.25" y="265.29" width="1.0" height="1.2"/><rect x="371.67" y="265.35" width="2.0" height="1.2"/><rect x="373.4" y="267.33" width="1.6" height="1.5"/><rect x="376.77" y="265.72" width="1.6" height="1.5"/><rect x="381.55" y="264.88" width="1.3" height="1.5"/><rect x="385.42" y="266.69" width="1.3" height="1.2"/><rect x="387.54" y="266.03" width="1.3" height="1.2"/><rect x="390.75" y="264.84" width="1.6" height="1.2"/><rect x="394.73" y="266.7" width="1.0" height="1.2"/><rect x="399.57" y="267.41" width="1.3" height="1.2"/><rect x="365.39" y="270.11" width="2.0" height="1.2"/><rect x="368.09" y="270.08" width="2.0" height="1.2"/><rect x="370.57" y="270.75" width="1.3" height="1.2"/><rect x="375.4" y="270.52" width="2.0" height="1.5"/><rect x="377.66" y="269.18" width="1.0" height="1.2"/><rect x="382" y="268.64" width="1.6" height="1.0"/><rect x="384.81" y="270.21" width="1.6" height="1.5"/><rect x="388.63" y="269.98" width="1.3" height="1.0"/><rect x="391.82" y="268.66" width="1.6" height="1.2"/><rect x="396.52" y="269.51" width="1.3" height="1.0"/><rect x="398.35" y="271.54" width="1.6" height="1.0"/><rect x="362.2" y="272.16" width="1.6" height="1.5"/><rect x="364.36" y="272.79" width="1.0" height="1.0"/><rect x="367.9" y="275.05" width="2.0" height="1.5"/><rect x="373.13" y="272.73" width="1.6" height="1.2"/><rect x="375.17" y="273.32" width="1.3" height="1.2"/><rect x="381.09" y="272.98" width="1.3" height="1.2"/><rect x="382.2" y="272.06" width="1.6" height="1.5"/><rect x="386.93" y="274.92" width="1.0" height="1.5"/><rect x="391.04" y="274.84" width="1.0" height="1.2"/><rect x="393.56" y="272.64" width="1.0" height="1.5"/><rect x="397.69" y="272.48" width="1.3" height="1.2"/><rect x="365.98" y="276.14" width="1.0" height="1.2"/><rect x="369.35" y="275.63" width="1.0" height="1.0"/><rect x="370.72" y="277.07" width="2.0" height="1.0"/><rect x="373.75" y="276.45" width="1.0" height="1.0"/><rect x="379.12" y="276.39" width="2.0" height="1.5"/><rect x="380.84" y="276.47" width="1.6" height="1.2"/><rect x="384.43" y="276.97" width="1.3" height="1.2"/><rect x="388.33" y="275.89" width="1.0" height="1.2"/><rect x="393.39" y="276.06" width="1.0" height="1.0"/><rect x="397.6" y="276.14" width="1.6" height="1.5"/><rect x="398.62" y="276.86" width="1.0" height="1.2"/></g>
<g clip-path="url(#stipR)" fill="#222"><rect x="484.39" y="124.85" width="1.6" height="1.2"/><rect x="488.54" y="124.93" width="1.6" height="1.0"/><rect x="490.51" y="125.75" width="1.3" height="1.5"/><rect x="494.43" y="126.24" width="2.0" height="1.0"/><rect x="497.38" y="124.72" width="1.3" height="1.0"/><rect x="500.93" y="126.08" width="1.6" height="1.0"/><rect x="504.43" y="123.76" width="2.0" height="1.2"/><rect x="507.5" y="126.52" width="1.0" height="1.5"/><rect x="513.52" y="125.54" width="1.3" height="1.5"/><rect x="515.73" y="124.32" width="1.6" height="1.0"/><rect x="484.22" y="127.78" width="1.3" height="1.0"/><rect x="486.69" y="127.87" width="1.3" height="1.0"/><rect x="492.56" y="130.06" width="1.3" height="1.5"/><rect x="493.5" y="129.51" width="1.6" height="1.5"/><rect x="497.43" y="126.95" width="1.6" height="1.0"/><rect x="501.66" y="127.07" width="2.0" height="1.0"/><rect x="504.94" y="127.52" width="1.3" height="1.5"/><rect x="510.04" y="129.21" width="1.3" height="1.5"/><rect x="511.38" y="127.22" width="2.0" height="1.2"/><rect x="515.22" y="127.38" width="1.3" height="1.5"/><rect x="480.53" y="132.68" width="2.0" height="1.5"/><rect x="486.95" y="132.13" width="1.6" height="1.2"/><rect x="488.47" y="132.51" width="2.0" height="1.0"/><rect x="491.15" y="133.38" width="2.0" height="1.0"/><rect x="497.41" y="131.33" width="1.3" height="1.5"/><rect x="500.82" y="131.65" width="1.3" height="1.5"/><rect x="502.89" y="132.37" width="1.0" height="1.2"/><rect x="506.9" y="131.9" width="1.0" height="1.0"/><rect x="509.92" y="131.26" width="1.6" height="1.5"/><rect x="515.08" y="132.31" width="1.0" height="1.2"/><rect x="518.63" y="133.52" width="2.0" height="1.2"/><rect x="482.91" y="135.73" width="1.0" height="1.0"/><rect x="487.84" y="134.73" width="1.3" height="1.0"/><rect x="488.62" y="134.81" width="1.0" height="1.0"/><rect x="492.14" y="136.24" width="1.3" height="1.2"/><rect x="495.42" y="135.92" width="2.0" height="1.5"/><rect x="499.66" y="135.43" width="1.6" height="1.0"/><rect x="504.72" y="134.16" width="1.0" height="1.2"/><rect x="507.54" y="135.61" width="1.6" height="1.0"/><rect x="509.9" y="135.31" width="1.3" height="1.5"/><rect x="514.93" y="136.76" width="1.3" height="1.5"/><rect x="518.4" y="136.39" width="1.3" height="1.0"/><rect x="483.96" y="138.89" width="1.0" height="1.2"/><rect x="489.35" y="137.72" width="1.6" height="1.2"/><rect x="491.07" y="140.22" width="2.0" height="1.5"/><rect x="495.89" y="140.46" width="2.0" height="1.5"/><rect x="497.04" y="139.2" width="1.6" height="1.0"/><rect x="503.17" y="139.66" width="1.0" height="1.2"/><rect x="504.28" y="138.15" width="1.6" height="1.2"/><rect x="508.11" y="139.68" width="1.3" height="1.0"/><rect x="512.35" y="138.81" width="2.0" height="1.5"/><rect x="514.69" y="140.67" width="1.0" height="1.0"/><rect x="484.45" y="144.01" width="1.6" height="1.5"/><rect x="487.73" y="144.03" width="1.0" height="1.2"/><rect x="489.93" y="141.13" width="1.3" height="1.0"/><rect x="493.99" y="142.06" width="1.3" height="1.0"/><rect x="496.8" y="144.14" width="1.6" height="1.0"/><rect x="501.63" y="142.79" width="1.3" height="1.2"/><rect x="504.08" y="141.5" width="1.6" height="1.2"/><rect x="509.06" y="141.96" width="1.0" height="1.5"/><rect x="512.49" y="143.76" width="1.3" height="1.5"/><rect x="515.52" y="142.83" width="1.6" height="1.2"/><rect x="483.53" y="146.14" width="1.6" height="1.0"/><rect x="486.87" y="145.33" width="2.0" height="1.5"/><rect x="490.89" y="147.56" width="1.3" height="1.0"/><rect x="494.2" y="145.66" width="1.6" height="1.2"/><rect x="499.5" y="145.31" width="1.0" height="1.0"/><rect x="500.74" y="144.83" width="1.6" height="1.2"/><rect x="505.87" y="146.27" width="2.0" height="1.2"/><rect x="509.65" y="144.97" width="1.3" height="1.5"/><rect x="513.2" y="145.11" width="1.6" height="1.5"/><rect x="515.5" y="146.77" width="1.6" height="1.5"/><rect x="482.47" y="151.09" width="2.0" height="1.2"/><rect x="485.78" y="150.41" width="1.3" height="1.2"/><rect x="489.59" y="148.17" width="1.0" height="1.2"/><rect x="491.62" y="151.32" width="1.3" height="1.2"/><rect x="496.59" y="149.05" width="1.0" height="1.2"/><rect x="500.13" y="150.36" width="1.6" height="1.5"/><rect x="502.08" y="149.28" width="2.0" height="1.5"/><rect x="505.52" y="150.66" width="2.0" height="1.2"/><rect x="509.44" y="148.74" width="1.6" height="1.0"/><rect x="512.95" y="149.36" width="1.3" height="1.0"/><rect x="517.71" y="149.21" width="1.3" height="1.2"/><rect x="481.49" y="154.59" width="1.0" height="1.0"/><rect x="483.82" y="153.49" width="2.0" height="1.2"/><rect x="490.13" y="154.15" width="2.0" height="1.5"/><rect x="493.37" y="154.01" width="2.0" height="1.2"/><rect x="495.75" y="151.82" width="1.6" height="1.2"/><rect x="500.83" y="153.85" width="1.3" height="1.0"/><rect x="502.65" y="153.29" width="1.3" height="1.0"/><rect x="507.95" y="153.24" width="2.0" height="1.5"/><rect x="511.28" y="153.56" width="1.0" height="1.0"/><rect x="513.11" y="152.86" width="1.0" height="1.2"/><rect x="517.12" y="152.04" width="1.6" height="1.5"/><rect x="483.6" y="156.85" width="2.0" height="1.5"/><rect x="484.66" y="156.15" width="1.3" height="1.5"/><rect x="490.54" y="156.54" width="1.0" height="1.5"/><rect x="493.03" y="155.57" width="1.0" height="1.5"/><rect x="496.07" y="157.74" width="1.6" height="1.5"/><rect x="500.5" y="155.24" width="1.6" height="1.2"/><rect x="504.52" y="157.09" width="1.0" height="1.0"/><rect x="505.93" y="157.68" width="1.6" height="1.5"/><rect x="511.76" y="156.87" width="1.3" height="1.5"/><rect x="513.07" y="157.14" width="1.3" height="1.0"/><rect x="517.63" y="156.85" width="1.0" height="1.0"/><rect x="482.69" y="160.32" width="2.0" height="1.5"/><rect x="484.58" y="161.31" width="1.0" height="1.5"/><rect x="489.2" y="159.79" width="1.3" height="1.2"/><rect x="491.16" y="158.87" width="1.0" height="1.5"/><rect x="494.02" y="159.37" width="2.0" height="1.0"/><rect x="497.53" y="161.6" width="1.0" height="1.2"/><rect x="501.07" y="159.52" width="1.3" height="1.0"/><rect x="504.93" y="160.63" width="1.3" height="1.2"/><rect x="507.98" y="161.52" width="2.0" height="1.2"/><rect x="512.83" y="159.57" width="2.0" height="1.0"/><rect x="515.81" y="160" width="1.3" height="1.2"/><rect x="483.29" y="163.84" width="1.3" height="1.0"/><rect x="484.59" y="163.44" width="1.3" height="1.0"/><rect x="490.66" y="163.22" width="1.6" height="1.0"/><rect x="492.17" y="165.07" width="1.6" height="1.2"/><rect x="496.72" y="165.36" width="2.0" height="1.2"/><rect x="499.94" y="163.53" width="2.0" height="1.2"/><rect x="502.81" y="163.69" width="1.6" height="1.5"/><rect x="505.33" y="164.86" width="1.3" height="1.5"/><rect x="509.2" y="162.92" width="1.3" height="1.5"/><rect x="513.73" y="164.96" width="1.3" height="1.0"/><rect x="517.03" y="162.99" width="2.0" height="1.2"/><rect x="483.48" y="166.78" width="2.0" height="1.5"/><rect x="485.82" y="168.57" width="1.3" height="1.5"/><rect x="491.88" y="167.73" width="2.0" height="1.5"/><rect x="495.39" y="167.54" width="2.0" height="1.5"/><rect x="497.4" y="166.23" width="1.0" height="1.5"/><rect x="500.94" y="167.56" width="1.6" height="1.5"/><rect x="505.3" y="167.06" width="1.3" height="1.2"/><rect x="506.43" y="168.1" width="1.3" height="1.0"/><rect x="510.94" y="167.94" width="1.0" height="1.0"/><rect x="515.24" y="166.99" width="1.6" height="1.0"/><rect x="517.2" y="166.83" width="1.3" height="1.2"/><rect x="482.14" y="170.27" width="2.0" height="1.2"/><rect x="485.86" y="172.18" width="1.3" height="1.2"/><rect x="487.49" y="170.54" width="1.6" height="1.2"/><rect x="490.54" y="171.61" width="2.0" height="1.0"/><rect x="497.18" y="170.65" width="1.0" height="1.0"/><rect x="498.46" y="170.23" width="1.3" height="1.5"/><rect x="503.22" y="170.66" width="1.3" height="1.2"/><rect x="505.23" y="170.34" width="2.0" height="1.5"/><rect x="508.26" y="170.36" width="1.3" height="1.5"/><rect x="514.35" y="171.19" width="1.6" height="1.2"/><rect x="517.34" y="171.2" width="1.0" height="1.0"/><rect x="484.83" y="173.82" width="1.0" height="1.5"/><rect x="487.83" y="173.06" width="1.3" height="1.5"/><rect x="489.78" y="175.42" width="1.3" height="1.2"/><rect x="495.35" y="173.18" width="2.0" height="1.5"/><rect x="498.46" y="173.61" width="1.0" height="1.2"/><rect x="503.05" y="174.26" width="1.6" height="1.5"/><rect x="505.17" y="175.1" width="2.0" height="1.5"/><rect x="507.28" y="175.13" width="2.0" height="1.5"/><rect x="512.27" y="175.86" width="1.3" height="1.2"/><rect x="516.6" y="173.05" width="1.6" height="1.0"/><rect x="484.43" y="178.47" width="1.6" height="1.0"/><rect x="487.94" y="176.98" width="1.6" height="1.2"/><rect x="488.71" y="178.47" width="1.3" height="1.0"/><rect x="494.13" y="177.99" width="2.0" height="1.0"/><rect x="497.73" y="176.46" width="2.0" height="1.0"/><rect x="502" y="177.56" width="1.6" height="1.0"/><rect x="505.37" y="176.89" width="1.3" height="1.2"/><rect x="508.09" y="176.82" width="2.0" height="1.0"/><rect x="511.78" y="176.93" width="2.0" height="1.2"/><rect x="515.81" y="176.81" width="1.6" height="1.0"/><rect x="517.84" y="177.1" width="1.0" height="1.2"/><rect x="480.84" y="180.96" width="1.0" height="1.0"/><rect x="485.05" y="181.47" width="1.6" height="1.2"/><rect x="488.09" y="180.21" width="1.0" height="1.2"/><rect x="494.25" y="182.37" width="1.0" height="1.5"/><rect x="496.91" y="183.1" width="1.6" height="1.0"/><rect x="500.21" y="183.02" width="2.0" height="1.0"/><rect x="504.19" y="181" width="1.6" height="1.0"/><rect x="507.28" y="181.98" width="1.6" height="1.5"/><rect x="509.55" y="180.42" width="1.0" height="1.0"/><rect x="514.77" y="182.65" width="1.6" height="1.2"/><rect x="516.43" y="182.01" width="1.3" height="1.0"/><rect x="484.83" y="185.88" width="1.6" height="1.2"/><rect x="486.31" y="186.14" width="1.6" height="1.0"/><rect x="490.43" y="185.27" width="1.6" height="1.2"/><rect x="493.55" y="183.64" width="2.0" height="1.0"/><rect x="499.33" y="185.09" width="2.0" height="1.5"/><rect x="500.36" y="184.47" width="1.0" height="1.0"/><rect x="505.59" y="184.03" width="2.0" height="1.5"/><rect x="510.02" y="183.8" width="1.0" height="1.2"/><rect x="511.99" y="184.21" width="1.6" height="1.0"/><rect x="514.1" y="185.46" width="2.0" height="1.0"/><rect x="482.52" y="188.69" width="2.0" height="1.2"/><rect x="484.15" y="187.08" width="1.3" height="1.5"/><rect x="488" y="187.99" width="2.0" height="1.5"/><rect x="493.17" y="188.85" width="2.0" height="1.0"/><rect x="496.28" y="188.69" width="2.0" height="1.5"/><rect x="500.98" y="189.8" width="2.0" height="1.5"/><rect x="503.6" y="189.63" width="1.0" height="1.5"/><rect x="507.31" y="188.99" width="1.6" height="1.5"/><rect x="510.51" y="190.08" width="2.0" height="1.5"/><rect x="514.29" y="188" width="1.6" height="1.5"/><rect x="518.58" y="187.14" width="1.3" height="1.0"/><rect x="483.23" y="190.86" width="1.6" height="1.5"/><rect x="487.19" y="191.91" width="1.3" height="1.5"/><rect x="490.28" y="191.41" width="1.3" height="1.0"/><rect x="495.5" y="191.23" width="1.0" height="1.0"/><rect x="498.69" y="191.39" width="1.0" height="1.0"/><rect x="501.18" y="191.38" width="2.0" height="1.0"/><rect x="504.78" y="191.31" width="1.0" height="1.5"/><rect x="508.19" y="192.46" width="1.0" height="1.2"/><rect x="512.25" y="193.13" width="1.3" height="1.5"/><rect x="515.38" y="192.86" width="1.0" height="1.5"/><rect x="520.32" y="192.88" width="1.0" height="1.2"/><rect x="483.59" y="194.66" width="1.3" height="1.5"/><rect x="487.39" y="194.42" width="1.6" height="1.5"/><rect x="489.6" y="194.87" width="1.6" height="1.0"/><rect x="493" y="196.01" width="1.3" height="1.2"/><rect x="497.44" y="196.37" width="2.0" height="1.0"/><rect x="502" y="196.89" width="1.0" height="1.5"/><rect x="506.33" y="194.65" width="1.6" height="1.5"/><rect x="509.26" y="196.75" width="1.0" height="1.0"/><rect x="511.82" y="196.47" width="1.6" height="1.5"/><rect x="515.72" y="196.72" width="1.6" height="1.0"/><rect x="481.71" y="199.57" width="1.0" height="1.5"/><rect x="484.97" y="198.78" width="2.0" height="1.0"/><rect x="490.4" y="199.51" width="1.0" height="1.0"/><rect x="492.83" y="197.89" width="1.6" height="1.0"/><rect x="495.29" y="200.62" width="2.0" height="1.0"/><rect x="500.22" y="198.45" width="1.6" height="1.2"/><rect x="501.92" y="198.74" width="1.3" height="1.2"/><rect x="507.01" y="200.43" width="1.0" height="1.0"/><rect x="509.53" y="200.26" width="2.0" height="1.2"/><rect x="515.57" y="199.86" width="2.0" height="1.2"/><rect x="516.75" y="200.7" width="1.0" height="1.2"/><rect x="481.26" y="204.04" width="1.0" height="1.0"/><rect x="484.65" y="202.34" width="2.0" height="1.2"/><rect x="489.48" y="202.42" width="1.6" height="1.2"/><rect x="491.2" y="203.03" width="1.6" height="1.0"/><rect x="494.78" y="202.65" width="1.0" height="1.5"/><rect x="498.71" y="203.33" width="1.6" height="1.2"/><rect x="502.66" y="202.78" width="1.6" height="1.2"/><rect x="507.13" y="202.87" width="1.3" height="1.5"/><rect x="508.97" y="202.97" width="1.0" height="1.0"/><rect x="514.86" y="203.21" width="1.0" height="1.2"/><rect x="518.45" y="203.71" width="1.3" height="1.0"/><rect x="482.79" y="207.16" width="1.6" height="1.5"/><rect x="488.07" y="205.51" width="2.0" height="1.2"/><rect x="489.08" y="205.8" width="1.6" height="1.2"/><rect x="494.03" y="207.57" width="1.3" height="1.2"/><rect x="496.44" y="205.38" width="2.0" height="1.2"/><rect x="500.91" y="206.54" width="1.6" height="1.0"/><rect x="504.9" y="205.18" width="1.6" height="1.2"/><rect x="508.88" y="206.48" width="1.6" height="1.0"/><rect x="513.03" y="206.58" width="1.0" height="1.5"/><rect x="514.21" y="206.57" width="2.0" height="1.2"/><rect x="520.26" y="206.92" width="1.0" height="1.2"/><rect x="481.1" y="211.12" width="1.0" height="1.0"/><rect x="486.07" y="209.02" width="1.0" height="1.0"/><rect x="487.76" y="209.69" width="1.6" height="1.5"/><rect x="493.21" y="208.89" width="1.0" height="1.0"/><rect x="496.59" y="208.51" width="1.6" height="1.5"/><rect x="498.65" y="208.86" width="1.0" height="1.5"/><rect x="502.78" y="208.35" width="1.6" height="1.2"/><rect x="508.05" y="208.35" width="2.0" height="1.2"/><rect x="510.76" y="210.81" width="1.3" height="1.0"/><rect x="515.1" y="210.8" width="1.0" height="1.5"/><rect x="517.84" y="210.73" width="2.0" height="1.2"/><rect x="485.51" y="211.88" width="1.6" height="1.5"/><rect x="488.35" y="212.79" width="2.0" height="1.5"/><rect x="492.06" y="214.45" width="1.3" height="1.0"/><rect x="493.4" y="212.47" width="1.0" height="1.2"/><rect x="499.47" y="213.14" width="1.3" height="1.5"/><rect x="503.53" y="213.63" width="1.3" height="1.5"/><rect x="505.92" y="214.39" width="2.0" height="1.0"/><rect x="509.95" y="212.78" width="2.0" height="1.5"/><rect x="511.9" y="213.46" width="1.6" height="1.0"/><rect x="515.36" y="213.57" width="1.0" height="1.5"/><rect x="485.38" y="215.81" width="1.3" height="1.2"/><rect x="488.21" y="215.62" width="1.0" height="1.5"/><rect x="489.77" y="215.52" width="1.3" height="1.5"/><rect x="495.35" y="216.16" width="1.6" height="1.5"/><rect x="496.89" y="215.9" width="1.3" height="1.5"/><rect x="500.04" y="217.81" width="1.3" height="1.2"/><rect x="506.61" y="216.92" width="1.6" height="1.2"/><rect x="508.48" y="216.36" width="1.0" height="1.0"/><rect x="512.65" y="215.38" width="2.0" height="1.5"/><rect x="516.84" y="215.52" width="2.0" height="1.2"/><rect x="483.81" y="220.96" width="1.3" height="1.0"/><rect x="486.95" y="219.7" width="2.0" height="1.0"/><rect x="490.42" y="219.52" width="2.0" height="1.5"/><rect x="494.11" y="221.67" width="2.0" height="1.0"/><rect x="499.88" y="221.38" width="2.0" height="1.2"/><rect x="503.33" y="219.3" width="1.6" height="1.2"/><rect x="504.11" y="218.88" width="1.3" height="1.0"/><rect x="508.38" y="220.81" width="2.0" height="1.0"/><rect x="512.74" y="221.68" width="1.3" height="1.5"/><rect x="515.58" y="221.35" width="2.0" height="1.0"/><rect x="481.39" y="225.38" width="1.0" height="1.0"/><rect x="484.97" y="225.31" width="1.3" height="1.2"/><rect x="488.5" y="224.75" width="1.0" height="1.0"/><rect x="493.03" y="223.67" width="2.0" height="1.2"/><rect x="497.13" y="224.52" width="2.0" height="1.2"/><rect x="501.74" y="222.51" width="1.3" height="1.0"/><rect x="504.68" y="224.6" width="1.0" height="1.0"/><rect x="507.3" y="223.14" width="2.0" height="1.5"/><rect x="509.56" y="222.47" width="1.6" height="1.0"/><rect x="515.56" y="222.79" width="2.0" height="1.0"/><rect x="517.97" y="222.41" width="1.3" height="1.5"/><rect x="483.33" y="227.68" width="1.0" height="1.5"/><rect x="485.98" y="227.52" width="1.0" height="1.2"/><rect x="491.48" y="228.65" width="1.3" height="1.5"/><rect x="492.16" y="228.18" width="1.0" height="1.2"/><rect x="496.32" y="229.01" width="1.3" height="1.5"/><rect x="499.15" y="228.45" width="1.6" height="1.2"/><rect x="502.57" y="228.13" width="2.0" height="1.5"/><rect x="506.97" y="226.99" width="2.0" height="1.5"/><rect x="511.89" y="227.21" width="1.6" height="1.5"/><rect x="514.47" y="229.04" width="2.0" height="1.2"/><rect x="519.48" y="228.5" width="1.0" height="1.0"/><rect x="484.51" y="230.29" width="2.0" height="1.0"/><rect x="487.72" y="231.59" width="1.0" height="1.5"/><rect x="491.12" y="232.37" width="1.0" height="1.2"/><rect x="494.37" y="230.51" width="2.0" height="1.5"/><rect x="497.83" y="230.92" width="1.0" height="1.2"/><rect x="501.61" y="232.19" width="1.6" height="1.5"/><rect x="504.51" y="230.68" width="2.0" height="1.2"/><rect x="508.57" y="230.73" width="1.6" height="1.5"/><rect x="511.94" y="232.1" width="1.0" height="1.5"/><rect x="515.91" y="231.59" width="1.6" height="1.2"/><rect x="519.8" y="230.98" width="1.6" height="1.5"/><rect x="483.31" y="236.19" width="1.0" height="1.5"/><rect x="486.19" y="233.66" width="1.3" height="1.2"/><rect x="489.32" y="233.56" width="2.0" height="1.0"/><rect x="494.14" y="235.64" width="1.0" height="1.2"/><rect x="496.85" y="235.66" width="2.0" height="1.0"/><rect x="500.48" y="235.25" width="2.0" height="1.0"/><rect x="503.87" y="235.12" width="1.6" height="1.2"/><rect x="508.35" y="233.89" width="1.6" height="1.2"/><rect x="511.99" y="234.44" width="2.0" height="1.5"/><rect x="515.85" y="235.43" width="1.3" height="1.0"/><rect x="519.01" y="234.18" width="1.3" height="1.5"/><rect x="481.8" y="237.76" width="1.0" height="1.5"/><rect x="484.89" y="238.36" width="1.0" height="1.5"/><rect x="488.36" y="238.83" width="1.6" height="1.2"/><rect x="492.14" y="237.39" width="2.0" height="1.0"/><rect x="496.53" y="238.12" width="1.0" height="1.0"/><rect x="498.81" y="239.6" width="1.6" height="1.5"/><rect x="504.42" y="239.48" width="2.0" height="1.2"/><rect x="506.64" y="238.81" width="1.6" height="1.2"/><rect x="510.38" y="238.48" width="1.6" height="1.2"/><rect x="513.3" y="239.25" width="1.3" height="1.5"/><rect x="516.68" y="239.64" width="1.6" height="1.0"/><rect x="482.81" y="240.31" width="2.0" height="1.2"/><rect x="486.55" y="241.4" width="1.0" height="1.0"/><rect x="490.72" y="241.55" width="2.0" height="1.5"/><rect x="495.04" y="241.4" width="2.0" height="1.0"/><rect x="498.74" y="241.48" width="2.0" height="1.0"/><rect x="501.07" y="242.71" width="1.3" height="1.5"/><rect x="503.61" y="241.81" width="1.6" height="1.5"/><rect x="507.56" y="241.31" width="2.0" height="1.0"/><rect x="510.33" y="242.78" width="1.0" height="1.0"/><rect x="515.16" y="242.78" width="1.3" height="1.5"/><rect x="518.56" y="242.7" width="1.3" height="1.5"/><rect x="483.34" y="245.37" width="2.0" height="1.5"/><rect x="484.58" y="244.91" width="1.0" height="1.5"/><rect x="488.13" y="244.68" width="1.0" height="1.0"/><rect x="494.35" y="244.49" width="1.6" height="1.0"/><rect x="495.73" y="244.43" width="1.6" height="1.5"/><rect x="499.53" y="246.44" width="1.0" height="1.2"/><rect x="502.78" y="246.38" width="2.0" height="1.5"/><rect x="506.16" y="244.26" width="1.0" height="1.0"/><rect x="510.59" y="244.81" width="2.0" height="1.5"/><rect x="513.97" y="245.47" width="1.6" height="1.2"/><rect x="516.59" y="246.54" width="1.0" height="1.5"/><rect x="482.22" y="248.45" width="1.6" height="1.0"/><rect x="484.93" y="249.69" width="1.6" height="1.0"/><rect x="489.85" y="249.71" width="2.0" height="1.2"/><rect x="494.1" y="248.57" width="1.3" height="1.0"/><rect x="495.24" y="249.88" width="1.0" height="1.0"/><rect x="498.63" y="249.95" width="2.0" height="1.0"/><rect x="501.78" y="249.45" width="1.3" height="1.2"/><rect x="505.97" y="249.45" width="1.6" height="1.0"/><rect x="510.5" y="247.66" width="1.3" height="1.5"/><rect x="512.66" y="247.46" width="1.0" height="1.0"/><rect x="517.19" y="249.25" width="1.6" height="1.5"/><rect x="484.79" y="251.18" width="1.0" height="1.5"/><rect x="486.57" y="251.2" width="2.0" height="1.2"/><rect x="492.1" y="253.47" width="1.6" height="1.5"/><rect x="495" y="251.18" width="1.6" height="1.2"/><rect x="498.5" y="251.37" width="1.3" height="1.2"/><rect x="503.39" y="251.73" width="1.3" height="1.5"/><rect x="504.75" y="252.77" width="1.0" height="1.0"/><rect x="508.84" y="253.01" width="2.0" height="1.2"/><rect x="513.06" y="251.05" width="1.6" height="1.0"/><rect x="516.52" y="251.36" width="1.0" height="1.2"/><rect x="481.2" y="256.71" width="1.0" height="1.0"/><rect x="486.22" y="256.97" width="1.0" height="1.0"/><rect x="488.66" y="255.09" width="1.3" height="1.5"/><rect x="494.69" y="254.33" width="1.0" height="1.0"/><rect x="496.38" y="257.23" width="1.6" height="1.0"/><rect x="499.37" y="255.34" width="2.0" height="1.0"/><rect x="503.4" y="255.38" width="1.0" height="1.2"/><rect x="508.46" y="256.53" width="2.0" height="1.0"/><rect x="511.8" y="254.58" width="1.3" height="1.5"/><rect x="514.21" y="254.34" width="1.0" height="1.5"/><rect x="518.34" y="255.54" width="1.3" height="1.2"/><rect x="482.58" y="258.95" width="1.3" height="1.2"/><rect x="485.53" y="260.76" width="1.6" height="1.0"/><rect x="491.2" y="260.54" width="2.0" height="1.2"/><rect x="492.53" y="258.06" width="1.3" height="1.0"/><rect x="496.08" y="258.62" width="1.0" height="1.2"/><rect x="500.62" y="258.28" width="1.0" height="1.5"/><rect x="503.48" y="260.78" width="1.6" height="1.2"/><rect x="507.97" y="260.9" width="1.3" height="1.5"/><rect x="512.51" y="259.36" width="1.0" height="1.0"/><rect x="513.61" y="257.93" width="1.3" height="1.5"/><rect x="519.17" y="258.04" width="1.3" height="1.0"/><rect x="485.56" y="262.64" width="1.0" height="1.2"/><rect x="487.73" y="261.68" width="1.3" height="1.0"/><rect x="490.23" y="263.76" width="1.0" height="1.0"/><rect x="493.22" y="262.37" width="1.0" height="1.0"/><rect x="497.21" y="263.75" width="1.3" height="1.2"/><rect x="501.15" y="263.87" width="2.0" height="1.5"/><rect x="506.53" y="261.33" width="2.0" height="1.2"/><rect x="507.23" y="263.8" width="1.3" height="1.5"/><rect x="512.29" y="261.83" width="1.6" height="1.0"/><rect x="514.85" y="264.24" width="1.6" height="1.5"/><rect x="486.03" y="267.35" width="2.0" height="1.0"/><rect x="487.98" y="267.31" width="1.0" height="1.5"/><rect x="491.96" y="265.46" width="1.0" height="1.2"/><rect x="495.97" y="265.12" width="1.6" height="1.5"/><rect x="497.52" y="267.9" width="2.0" height="1.0"/><rect x="501.36" y="267.04" width="1.6" height="1.0"/><rect x="506.44" y="267.48" width="1.3" height="1.2"/><rect x="508.84" y="266.87" width="1.6" height="1.5"/><rect x="514.2" y="266.52" width="1.0" height="1.0"/><rect x="517.76" y="267.34" width="1.6" height="1.0"/><rect x="482.13" y="270.15" width="2.0" height="1.5"/><rect x="486.68" y="270.55" width="1.0" height="1.2"/><rect x="489.44" y="269.62" width="1.6" height="1.2"/><rect x="492.16" y="268.64" width="1.6" height="1.5"/><rect x="496.29" y="271.03" width="1.6" height="1.0"/><rect x="498.89" y="270.29" width="1.0" height="1.2"/><rect x="502.8" y="270.29" width="2.0" height="1.0"/><rect x="506.07" y="269.05" width="1.6" height="1.2"/><rect x="511.23" y="270.34" width="1.6" height="1.2"/><rect x="512.36" y="269.23" width="2.0" height="1.2"/><rect x="517.72" y="270.93" width="1.0" height="1.0"/><rect x="481.96" y="274.52" width="1.3" height="1.2"/><rect x="486.22" y="274.95" width="1.6" height="1.0"/><rect x="489.61" y="274.73" width="2.0" height="1.2"/><rect x="494.02" y="274.94" width="1.3" height="1.0"/><rect x="497.21" y="271.93" width="1.3" height="1.0"/><rect x="502.51" y="273.35" width="1.6" height="1.5"/><rect x="504.16" y="272.22" width="2.0" height="1.0"/><rect x="509.53" y="274.75" width="2.0" height="1.0"/><rect x="511.74" y="272.96" width="1.6" height="1.2"/><rect x="514.79" y="274.01" width="2.0" height="1.5"/><rect x="519.75" y="272.09" width="2.0" height="1.2"/><rect x="483.8" y="275.62" width="1.0" height="1.5"/><rect x="485.43" y="276.43" width="1.3" height="1.5"/><rect x="489.7" y="276.9" width="1.6" height="1.2"/><rect x="491.74" y="278.47" width="1.6" height="1.0"/><rect x="495.43" y="278.36" width="1.0" height="1.2"/><rect x="498.92" y="277.31" width="1.6" height="1.5"/><rect x="504.33" y="276.36" width="1.0" height="1.2"/><rect x="507.19" y="276.73" width="1.0" height="1.5"/><rect x="511.01" y="277.01" width="1.6" height="1.5"/><rect x="515.39" y="276.47" width="2.0" height="1.0"/><rect x="518.58" y="276.54" width="1.3" height="1.0"/></g>
<polygon points="359.5,120.6 409.3,120.6 409.3,138.4 392,138.4 392,125.4 363,125.4 361,279.3 353.6,279.3 355.3,126" fill="#fff" stroke="none"/>
<polygon points="359.5,120.6 409.3,120.6 409.3,138.4 392,138.4 392,125.4 363,125.4 361,279.3 353.6,279.3 355.3,126" fill="url(#hatch)" stroke="none"/>
<polygon points="447.5,120.6 518,120.6 518,125.4 490.7,125.4 490.7,138.4 447.5,138.4" fill="#fff" stroke="none"/>
<polygon points="447.5,120.6 518,120.6 518,125.4 490.7,125.4 490.7,138.4 447.5,138.4" fill="url(#hatch)" stroke="none"/>
<rect x="409.3" y="120.6" width="38.2" height="17.8" fill="#fff"/>
<line x1="409.3" y1="99.3" x2="409.3" y2="138.5" stroke="#000" stroke-width="1.38" />
<line x1="447.5" y1="99.3" x2="447.5" y2="138.5" stroke="#000" stroke-width="1.38" />
<polygon points="456.6,270.6 491,270.6 491,232.7 504,232.7 504,279.3 456.6,279.3" fill="#fff" stroke="none"/>
<polygon points="456.6,270.6 491,270.6 491,232.7 504,232.7 504,279.3 456.6,279.3" fill="url(#hatch)" stroke="none"/>
<polygon points="391,270.6 400,270.6 400,279.3 391,279.3" fill="#fff" stroke="none"/>
<polygon points="391,270.6 400,270.6 400,279.3 391,279.3" fill="url(#hatch)" stroke="none"/>
<line x1="363" y1="125.4" x2="361" y2="279.3" stroke="#000" stroke-width="1.38" />
<line x1="363" y1="125.4" x2="518" y2="125.4" stroke="#000" stroke-width="1.26" />
<line x1="392" y1="132.9" x2="490.7" y2="132.9" stroke="#000" stroke-width="2.07" />
<line x1="392" y1="138.4" x2="490.7" y2="138.4" stroke="#000" stroke-width="1.26" />
<line x1="392" y1="125.4" x2="392" y2="138.4" stroke="#000" stroke-width="1.15" />
<polygon points="355.5,279.3 518,279.3 518.5,285.5 353,285.5" fill="#9c9c9c" stroke="none"/>
<line x1="361" y1="279.3" x2="518" y2="279.3" stroke="#000" stroke-width="1.26" />
<line x1="390.7" y1="270.6" x2="491" y2="270.6" stroke="#000" stroke-width="1.26" />
<line x1="390.7" y1="270.6" x2="390.7" y2="279.3" stroke="#000" stroke-width="1.15" />
<line x1="491" y1="232.7" x2="504" y2="232.7" stroke="#000" stroke-width="1.26" />
<line x1="491" y1="232.7" x2="491" y2="270.6" stroke="#000" stroke-width="1.26" />
<line x1="504" y1="232.7" x2="504" y2="279.3" stroke="#000" stroke-width="1.26" />
<path d="M518,120 L516,153.4 M515.5,247.9 Q519,262 518.5,285.5" stroke="#000" stroke-width="1.26" fill="none" />
<rect x="375.9" y="146" width="20.4" height="111" stroke="#000" stroke-width="1.49" fill="#fff" />
<line x1="388" y1="146" x2="388" y2="257" stroke="#000" stroke-width="1.38" />
<line x1="375.9" y1="162.4" x2="396.3" y2="162.4" stroke="#000" stroke-width="1.38" />
<line x1="375.9" y1="178" x2="396.3" y2="178" stroke="#000" stroke-width="1.38" />
<line x1="375.9" y1="193.5" x2="396.3" y2="193.5" stroke="#000" stroke-width="1.38" />
<line x1="375.9" y1="209" x2="396.3" y2="209" stroke="#000" stroke-width="1.38" />
<line x1="375.9" y1="224.7" x2="396.3" y2="224.7" stroke="#000" stroke-width="1.38" />
<line x1="375.9" y1="240.9" x2="396.3" y2="240.9" stroke="#000" stroke-width="1.38" />
<rect x="460" y="146" width="20.7" height="111" stroke="#000" stroke-width="1.49" fill="#fff" />
<line x1="467.8" y1="146" x2="467.8" y2="257" stroke="#000" stroke-width="1.38" />
<line x1="460" y1="162.4" x2="480.7" y2="162.4" stroke="#000" stroke-width="1.38" />
<line x1="460" y1="178" x2="480.7" y2="178" stroke="#000" stroke-width="1.38" />
<line x1="460" y1="193.5" x2="480.7" y2="193.5" stroke="#000" stroke-width="1.38" />
<line x1="460" y1="209" x2="480.7" y2="209" stroke="#000" stroke-width="1.38" />
<line x1="460" y1="224.7" x2="480.7" y2="224.7" stroke="#000" stroke-width="1.38" />
<line x1="460" y1="240.9" x2="480.7" y2="240.9" stroke="#000" stroke-width="1.38" />
<rect x="396.8" y="143.3" width="3.6" height="127" fill="#fff"/>
<rect x="456.4" y="143.3" width="3.6" height="127" fill="#fff"/>
<line x1="398.9" y1="143.3" x2="398.9" y2="219.5" stroke="#555" stroke-width="0.92" />
<line x1="458.4" y1="143.3" x2="458.4" y2="219.5" stroke="#555" stroke-width="0.92" />
<rect x="363.6" y="135.6" width="36" height="2.8" fill="#fff"/>
<line x1="363" y1="135.6" x2="392" y2="135.6" stroke="#000" stroke-width="1.15" />
<rect x="457.5" y="135.6" width="33" height="2.8" fill="#fff"/>
<rect x="365" y="138.4" width="31" height="5" stroke="#000" stroke-width="1.26" fill="#fff" />
<line x1="375" y1="142.3" x2="396" y2="142.3" stroke="#000" stroke-width="2.53" />
<rect x="457" y="138.4" width="33" height="5" stroke="#000" stroke-width="1.26" fill="#fff" />
<line x1="461" y1="142.4" x2="485" y2="142.4" stroke="#000" stroke-width="2.53" />
<path d="M369,260 L392,260 L392,270.6 L369,270.6 Q366,270.6 366,267.5 L366,263 Q366,260 369,260 Z" stroke="#000" stroke-width="1.38" fill="#fff" />
<line x1="368" y1="264.3" x2="392" y2="264.3" stroke="#555" stroke-width="1.15" />
<path d="M459,260 L488,260 Q491,260 491,263 L491,270.6 L459,270.6 Z" stroke="#000" stroke-width="1.38" fill="#fff" />
<line x1="459" y1="264.3" x2="488" y2="264.3" stroke="#555" stroke-width="1.15" />
<line x1="401.5" y1="138.4" x2="401.5" y2="219.5" stroke="#000" stroke-width="1.72" />
<line x1="455.4" y1="138.4" x2="455.4" y2="219.5" stroke="#000" stroke-width="1.72" />
<line x1="398.9" y1="219.5" x2="398.9" y2="279.3" stroke="#222" stroke-width="2.53" />
<line x1="458.5" y1="219.5" x2="458.5" y2="279.3" stroke="#222" stroke-width="2.53" />
<line x1="398.9" y1="219.5" x2="458.5" y2="219.5" stroke="#000" stroke-width="1.38" />
<line x1="428.4" y1="116.9" x2="428.4" y2="143.8" stroke="#000" stroke-width="1.38" />
<line x1="428.4" y1="155.1" x2="428.4" y2="165.1" stroke="#000" stroke-width="1.38" />
<line x1="428.4" y1="175.2" x2="428.4" y2="227.6" stroke="#000" stroke-width="1.38" />
<line x1="428.4" y1="238.2" x2="428.4" y2="248.9" stroke="#000" stroke-width="1.38" />
<line x1="428.4" y1="259.5" x2="428.4" y2="285.5" stroke="#000" stroke-width="1.38" />
<rect x="495.2" y="140" width="9.3" height="10" stroke="#000" stroke-width="1.38" fill="#fff" />
<line x1="496" y1="149" x2="503" y2="141" stroke="#000" stroke-width="1.15" />
<rect x="495.2" y="161.2" width="9.3" height="6.8" stroke="#000" stroke-width="1.38" fill="#fff" />
<path d="M490.4,178 Q490.4,175.7 493,175.7 Q495.7,175.7 495.7,178 L495.7,213.3 L490.4,213.3 Z" stroke="#000" stroke-width="1.38" fill="#fff" />
<path d="M495.7,207 L504.5,191 L504.5,213.3 L495.7,213.3" stroke="#000" stroke-width="1.15" fill="#fff" />
<rect x="515.5" y="153.4" width="60.2" height="94.5" stroke="#000" stroke-width="1.38" fill="#fff" />
<line x1="352.9" y1="380.5" x2="352.9" y2="437" stroke="#000" stroke-width="1.38" />
<line x1="628.1" y1="380.5" x2="628.1" y2="441" stroke="#000" stroke-width="1.38" />
<line x1="352.9" y1="384.5" x2="628" y2="384.5" stroke="#000" stroke-width="1.38" />
<path d="M353,384.5 L365.5,382.1 L365.5,386.9 Z" fill="#000" stroke="none"/>
<path d="M628,384.5 L615.5,386.9 L615.5,382.1 Z" fill="#000" stroke="none"/>
<text x="491.2" y="373.6" font-size="16" text-anchor="middle" dominant-baseline="central">73</text>
<line x1="352.9" y1="415.2" x2="427.9" y2="415.2" stroke="#000" stroke-width="1.38" />
<path d="M353,415.2 L365.5,412.8 L365.5,417.6 Z" fill="#000" stroke="none"/>
<path d="M427.8,415.2 L415.3,417.6 L415.3,412.8 Z" fill="#000" stroke="none"/>
<text x="390.5" y="405" font-size="16" text-anchor="middle" dominant-baseline="central">20</text>
<path d="M352.9,437 L352.9,583.3 Q353.2,588 357.5,588 L382.8,588" stroke="#000" stroke-width="1.38" fill="none" />
<path d="M357.1,437.1 L624.3,437.1 Q628.1,437.3 628.1,441 L628.1,474.5" stroke="#000" stroke-width="1.38" fill="none" />
<path d="M352.9,441 Q353.2,437.1 357.1,437.1" stroke="#000" stroke-width="1.38" fill="none" />
<rect x="382.8" y="585.5" width="193" height="3" fill="#111"/>
<path d="M575.8,588 L623.8,588 Q628.7,587.5 628.7,583 L628.7,550.3" stroke="#000" stroke-width="1.38" fill="none" />
<rect x="351.4" y="480.3" width="3.8" height="64.7" rx="1.5" fill="#333"/>
<circle cx="428.4" cy="512.2" r="19.6" stroke="#000" stroke-width="1.72" fill="none" />
<line x1="428.4" y1="410" x2="428.4" y2="455.7" stroke="#000" stroke-width="1.38" />
<line x1="428.4" y1="465.1" x2="428.4" y2="476.4" stroke="#000" stroke-width="1.38" />
<line x1="428.4" y1="486.4" x2="428.4" y2="538.8" stroke="#000" stroke-width="1.38" />
<line x1="428.4" y1="548.2" x2="428.4" y2="560.1" stroke="#000" stroke-width="1.38" />
<line x1="428.4" y1="570.1" x2="428.4" y2="598.3" stroke="#000" stroke-width="1.38" />
<line x1="333.6" y1="512.3" x2="392" y2="512.3" stroke="#000" stroke-width="1.38" />
<line x1="402.9" y1="512.3" x2="413.8" y2="512.3" stroke="#000" stroke-width="1.38" />
<line x1="424.8" y1="512.3" x2="476.5" y2="512.3" stroke="#000" stroke-width="1.38" />
<line x1="486.4" y1="512.3" x2="497.3" y2="512.3" stroke="#000" stroke-width="1.38" />
<line x1="507.4" y1="512.3" x2="560.2" y2="512.3" stroke="#000" stroke-width="1.38" />
<line x1="570.2" y1="512.3" x2="581.2" y2="512.3" stroke="#000" stroke-width="1.38" />
<line x1="591.2" y1="512.3" x2="647" y2="512.3" stroke="#000" stroke-width="1.38" />
<line x1="654.7" y1="512.3" x2="664.5" y2="512.3" stroke="#000" stroke-width="1.38" />
<line x1="672.2" y1="512.3" x2="733.4" y2="512.3" stroke="#000" stroke-width="1.38" />
<path d="M606.5,437.1 Q610.5,437.5 610.5,441.5 L610.5,486.3" stroke="#000" stroke-width="1.38" fill="none" />
<path d="M610.5,464 Q622.5,466 623.2,474.5 L623.2,482 Q622,486.3 618,486.3 L608.6,486.3" stroke="#000" stroke-width="1.38" fill="none" />
<line x1="623.2" y1="474.5" x2="668.6" y2="474.5" stroke="#000" stroke-width="1.38" />
<path d="M668.6,474.5 Q670.6,475 670.6,478 L670.6,547 Q670.6,550.3 668.6,550.3 L623.2,550.3" stroke="#000" stroke-width="1.38" fill="none" />
<path d="M608.6,488.1 L623.5,488.1 Q626.2,488.6 626.2,492 L626.2,533 Q626.2,537.3 622.5,537.5 L608.6,537.5" stroke="#000" stroke-width="1.38" fill="none" />
<line x1="608.6" y1="493.1" x2="608.6" y2="531.8" stroke="#000" stroke-width="1.38" />
<line x1="621.3" y1="493.1" x2="621.3" y2="531.8" stroke="#000" stroke-width="1.38" />
<line x1="608.6" y1="493.1" x2="621.3" y2="493.1" stroke="#000" stroke-width="2.76" />
<line x1="608.6" y1="531.8" x2="621.3" y2="531.8" stroke="#000" stroke-width="2.76" />
<path d="M617.2,495 L621,512.3 L617.2,530" stroke="#333" stroke-width="1.15" fill="none" />
<rect x="626.7" y="497.2" width="4.5" height="30.8" stroke="#000" stroke-width="1.38" fill="none" />
<line x1="628.5" y1="500" x2="630.5" y2="525" stroke="#333" stroke-width="1.03" />
<line x1="632.6" y1="497.2" x2="632.6" y2="528" stroke="#000" stroke-width="2.76" />
<path d="M634.4,496.7 L643,496.7 Q646.6,497 646.6,501 L646.6,508.5 L641.5,510 L641.5,514.5 L646.6,516 L646.6,524.5 Q646.6,528.9 643,528.9 L634.4,528.9 Z" stroke="#000" stroke-width="1.38" fill="none" />
<path d="M608.6,537.9 L618,537.9 Q623.2,540 623.2,550.3 Q622,559.5 611,561.8" stroke="#000" stroke-width="1.38" fill="none" />
<line x1="610" y1="537.6" x2="610" y2="543" stroke="#000" stroke-width="1.26" />
<rect x="608.3" y="543" width="3.2" height="29.5" rx="1.6" fill="#888" stroke="#000" stroke-width="1.1"/>
<path d="M610,572 L610,583 Q609,587.5 605,588" stroke="#000" stroke-width="1.26" fill="none" />
<path d="M671.5,480.8 L688.5,480.8 M671.5,545 L688.5,545" stroke="#000" stroke-width="1.38" fill="none" />
<path d="M672.3,481.5 Q669.3,496.5 671.8,512.3 Q669.3,528 672.3,544.5" stroke="#000" stroke-width="1.38" fill="none" />
<path d="M688,481.5 Q691,496.5 688.5,512.3 Q691,528 688,544.5" stroke="#000" stroke-width="1.38" fill="none" />
<line x1="689.4" y1="486" x2="696.3" y2="486" stroke="#000" stroke-width="1.38" />
<line x1="689.4" y1="539.3" x2="696.3" y2="539.3" stroke="#000" stroke-width="1.38" />
<path d="M696.3,482.2 L722.8,482.2 L727,486 L727,539 L722.8,542.7 L696.3,542.7 Z" stroke="#000" stroke-width="1.49" fill="none" />
<line x1="696.3" y1="483" x2="722.8" y2="483" stroke="#000" stroke-width="2.53" />
<line x1="696.3" y1="542" x2="722.8" y2="542" stroke="#000" stroke-width="2.53" />
<line x1="722.8" y1="486" x2="722.8" y2="539" stroke="#000" stroke-width="1.38" />
<line x1="727" y1="497" x2="761.8" y2="497" stroke="#000" stroke-width="1.38" />
<line x1="727" y1="527.3" x2="761.8" y2="527.3" stroke="#000" stroke-width="1.38" />
<path d="M761.8,497 L756,505.5 L765.2,515.5 L761.8,527.3" stroke="#000" stroke-width="1.38" fill="none" />
</svg>
</body></html>
